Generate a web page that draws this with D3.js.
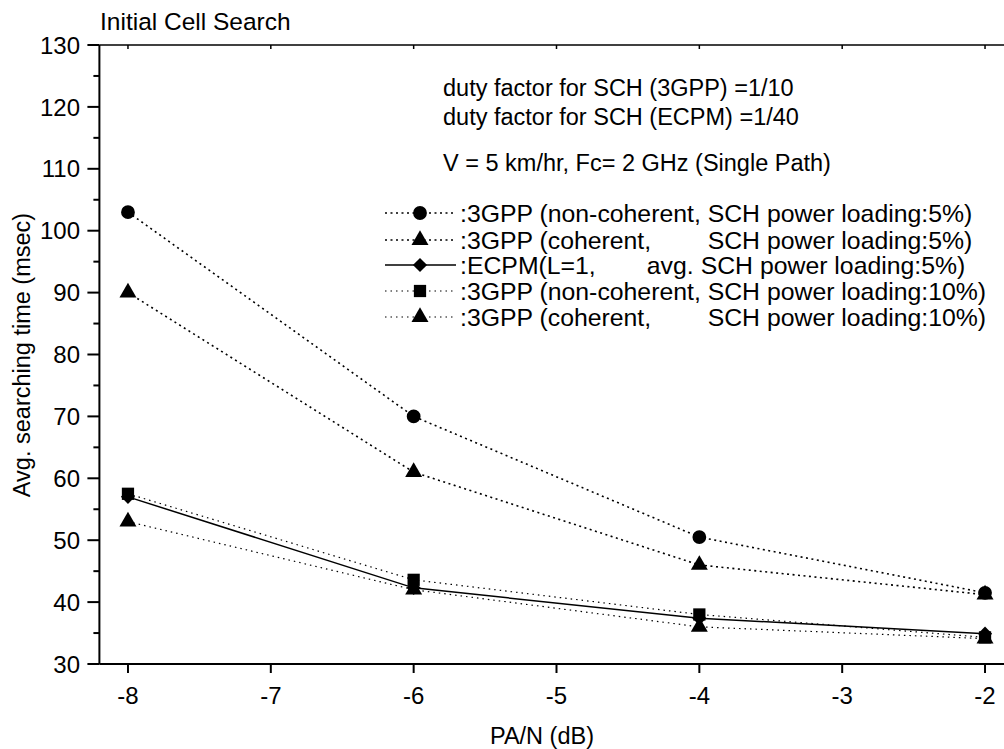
<!DOCTYPE html>
<html lang="en">
<head>
<meta charset="utf-8">
<title>Initial Cell Search</title>
<script src="https://d3js.org/d3.v7.min.js"></script>
<style>
  body { margin: 0; background: #fff; }
  svg text { font-family: "Liberation Sans", Arial, sans-serif; fill: #000; }
</style>
</head>
<body>
<script>
// data
const paN = [-8, -6, -4, -2];
const gppNonCoh5 = [103, 70, 50.5, 41.5];
const gppCoh5 = [90, 61, 46, 41.2];
const ecpm5 = [57, 42.3, 37.4, 34.9];
const gppNonCoh10 = [57.5, 43.6, 38, 34.3];
const gppCoh10 = [53, 42, 36, 34.1];

const xTicks = [-8, -7, -6, -5, -4, -3, -2];
const yTicks = [30, 40, 50, 60, 70, 80, 90, 100, 110, 120, 130];
const yMinor = [35, 45, 55, 65, 75, 85, 95, 105, 115, 125];

const notes = ["duty factor for SCH (3GPP) =1/10", "duty factor for SCH (ECPM) =1/40", "V = 5 km/hr, Fc= 2 GHz (Single Path)"];

// diamond = square turned 45 degrees
const diamond = {draw: function(ctx, size) { d3.symbolSquare.draw(ctx, size); }};

const series = [
  {vals: gppNonCoh5, sym: d3.symbolCircle, size: 150, rot: 0, dash: "2,3.5", sw: 1.6, label: [":3GPP (non-coherent, SCH power loading:5%)"]},
  {vals: gppCoh5, sym: d3.symbolTriangle, size: 125, rot: 0, dash: "2,3.5", sw: 1.6, label: [":3GPP (coherent,", "SCH power loading:5%)"]},
  {vals: ecpm5, sym: diamond, size: 100, rot: 45, dash: null, sw: 1.5, label: [":ECPM(L=1,", "avg.", "SCH power loading:5%)"]},
  {vals: gppNonCoh10, sym: d3.symbolSquare, size: 150, rot: 0, dash: "1.5,4", sw: 1.2, label: [":3GPP (non-coherent, SCH power loading:10%)"]},
  {vals: gppCoh10, sym: d3.symbolTriangle, size: 125, rot: 0, dash: "1.5,4", sw: 1.2, label: [":3GPP (coherent,", "SCH power loading:10%)"]}
];

const W = 1004, H = 749;
const FS = 23.5;   // axis titles, notes
const TFS = 24;    // tick labels
const LFS = 24.8;  // legend

const x = d3.scaleLinear().domain([-8.2, -1.8]).range([99.4, 1013.6]);
const y = d3.scaleLinear().domain([30, 130]).range([664, 45]);

const svg = d3.select("body").append("svg").attr("width", W).attr("height", H);

// frame: left, bottom, top
svg.append("line").attr("x1", x(-8.2)).attr("x2", x(-8.2)).attr("y1", y(30)).attr("y2", y(130))
  .attr("stroke", "#000").attr("stroke-width", 2);
svg.append("line").attr("x1", x(-8.2)).attr("x2", W).attr("y1", y(30)).attr("y2", y(30))
  .attr("stroke", "#000").attr("stroke-width", 2);
svg.append("line").attr("x1", x(-8.2)).attr("x2", W).attr("y1", y(130)).attr("y2", y(130))
  .attr("stroke", "#000").attr("stroke-width", 1.5);

// y ticks
svg.selectAll(".ymaj").data(yTicks).enter().append("line")
  .attr("x1", x(-8.2) - 12).attr("x2", x(-8.2)).attr("y1", d => y(d)).attr("y2", d => y(d))
  .attr("stroke", "#000").attr("stroke-width", 2);
svg.selectAll(".ymin").data(yMinor).enter().append("line")
  .attr("x1", x(-8.2) - 6).attr("x2", x(-8.2)).attr("y1", d => y(d)).attr("y2", d => y(d))
  .attr("stroke", "#000").attr("stroke-width", 2);
svg.selectAll(".ylab").data(yTicks).enter().append("text")
  .attr("x", 80).attr("y", d => y(d)).attr("dy", "0.36em")
  .attr("text-anchor", "end").style("font-size", TFS + "px").text(d => d);

// x ticks
svg.selectAll(".xmaj").data(xTicks).enter().append("line")
  .attr("x1", d => x(d)).attr("x2", d => x(d)).attr("y1", y(30)).attr("y2", y(30) + 9)
  .attr("stroke", "#000").attr("stroke-width", 2);
svg.selectAll(".xtop").data(xTicks).enter().append("line")
  .attr("x1", d => x(d)).attr("x2", d => x(d)).attr("y1", y(130)).attr("y2", y(130) + 4)
  .attr("stroke", "#000").attr("stroke-width", 1.5);
svg.selectAll(".xlab").data(xTicks).enter().append("text")
  .attr("x", d => x(d)).attr("y", 704)
  .attr("text-anchor", "middle").style("font-size", TFS + "px").text(d => d);

// axis titles
svg.append("text").attr("x", 542).attr("y", 744).attr("text-anchor", "middle")
  .style("font-size", FS + "px").text("PA/N (dB)");
svg.append("text").attr("transform", "translate(30,355) rotate(-90)").attr("text-anchor", "middle")
  .style("font-size", FS + "px").text("Avg. searching time (msec)");
svg.append("text").attr("x", 100).attr("y", 30).style("font-size", "24.5px").text("Initial Cell Search");

// notes
svg.selectAll(".note").data(notes).enter().append("text")
  .attr("x", 443).attr("y", (d, i) => [96, 125, 171][i])
  .style("font-size", FS + "px").text(d => d);

// lines
const line = d3.line().x((d, i) => x(paN[i])).y(d => y(d));
series.forEach(s => {
  svg.append("path").attr("d", line(s.vals)).attr("fill", "none")
    .attr("stroke", "#000").attr("stroke-width", s.sw)
    .attr("stroke-dasharray", s.dash);
});
series.forEach(s => {
  svg.selectAll(null).data(s.vals).enter().append("path")
    .attr("d", d3.symbol().type(s.sym).size(s.size))
    .attr("transform", (d, i) => "translate(" + x(paN[i]) + "," + y(d) + ") rotate(" + s.rot + ")")
    .attr("fill", "#000");
});

// legend
const legY = [213, 240, 265, 291, 317];
const leg = svg.append("g");
series.forEach((s, i) => {
  const cy = legY[i];
  leg.append("line").attr("x1", 385).attr("x2", 456).attr("y1", cy).attr("y2", cy)
    .attr("stroke", "#000").attr("stroke-width", s.sw).attr("stroke-dasharray", s.dash);
  leg.append("path").attr("d", d3.symbol().type(s.sym).size(s.size))
    .attr("transform", "translate(420," + cy + ") rotate(" + s.rot + ")").attr("fill", "#000");
});
// row texts; later columns aligned to where "SCH" sits in row 1
const row1 = leg.append("text").attr("x", 460).attr("y", legY[0] + 8.5).style("font-size", LFS + "px")
  .text(series[0].label[0]);
const schX = 460 + row1.node().getSubStringLength(0, ":3GPP (non-coherent, ".length);
series.forEach((s, i) => {
  if (i === 0) return;
  const by = legY[i] + 8.5;
  leg.append("text").attr("x", 460).attr("y", by).style("font-size", LFS + "px").text(s.label[0]);
  if (s.label.length === 2) {
    leg.append("text").attr("x", schX).attr("y", by).style("font-size", LFS + "px").text(s.label[1]);
  } else if (s.label.length === 3) {
    leg.append("text").attr("x", schX - 7).attr("y", by).style("font-size", LFS + "px").text(s.label[2]);
    leg.append("text").attr("x", schX - 14).attr("y", by).attr("text-anchor", "end")
      .style("font-size", LFS + "px").text(s.label[1]);
  }
});
</script>
</body>
</html>
